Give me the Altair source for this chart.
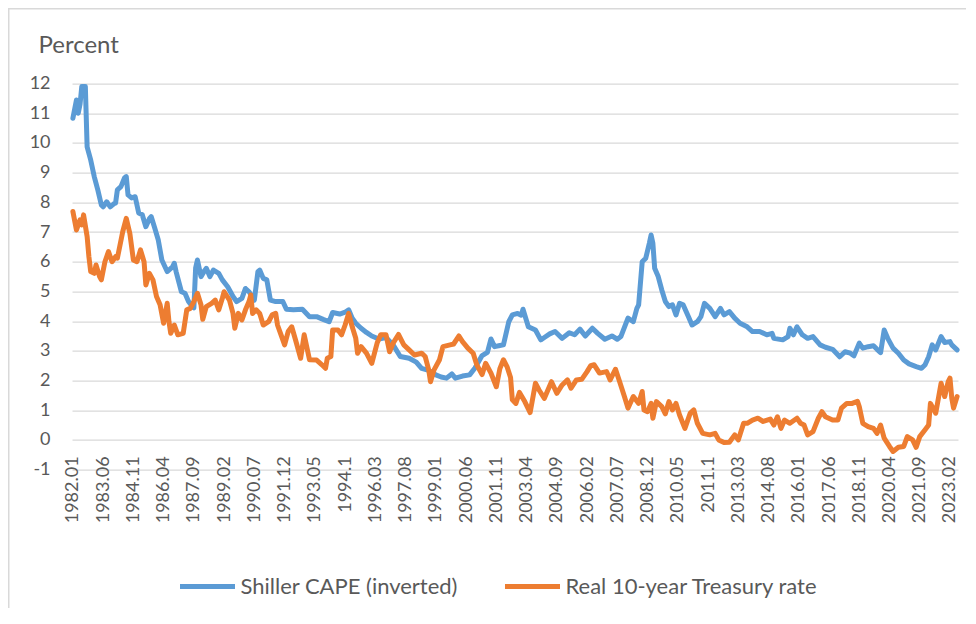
import json
import altair as alt
import pandas as pd

# ---------------- data (month index: 0 = 1982.01) ----------------
SERIES = ["Shiller CAPE (inverted)", "Real 10-year Treasury rate"]
COLORS = ["#5B9BD5", "#ED7D31"]

CAPE_MONTHS = [
    0, 2, 3, 4, 5, 7, 8, 10, 12, 14, 16, 17, 19, 21, 23, 24, 25, 27, 29, 30,
    31, 33, 35, 37, 39, 41, 43, 44, 46, 48, 50, 53, 56, 57, 58, 61, 63, 65, 67, 68,
    69, 70, 72, 74, 75, 77, 79, 82, 84, 87, 90, 92, 95, 97, 99, 102, 104, 105, 107, 109,
    111, 114, 118, 120, 124, 129, 133, 137, 141, 144, 146, 150, 153, 155, 157, 159, 162, 165, 168, 172,
    176, 180, 184, 189, 193, 196, 199, 202, 204, 207, 210, 213, 215, 219, 223, 226, 230, 233, 235, 237,
    240, 242, 245, 247, 250, 252, 253, 256, 260, 263, 265, 268, 271, 275, 279, 282, 285, 288, 292, 295,
    299, 303, 306, 308, 312, 315, 317, 318, 320, 322, 324, 325, 326, 327, 329, 331, 333, 335, 337, 339,
    341, 343, 346, 348, 351, 353, 355, 358, 361, 364, 366, 369, 372, 375, 379, 382, 386, 390, 393, 394,
    399, 402, 403, 405, 407, 410, 413, 416, 420, 423, 427, 431, 434, 437, 439, 442, 444, 447, 450, 452,
    454, 456, 458, 461, 464, 467, 470, 474, 477, 479, 481, 483, 485, 488, 490, 493, 494, 497,
]
CAPE_VALUES = [
    10.83, 11.45, 11.0, 11.3, 11.9, 11.9, 9.87, 9.43, 8.87, 8.42, 7.91, 7.85, 8.02, 7.85, 7.95, 7.98, 8.42, 8.53, 8.82, 8.87,
    8.25, 8.15, 8.19, 7.64, 7.58, 7.18, 7.45, 7.52, 7.14, 6.73, 6.06, 5.67, 5.83, 5.95, 5.67, 4.99, 4.94, 4.66, 4.5, 4.45,
    5.8, 6.06, 5.5, 5.7, 5.78, 5.5, 5.72, 5.61, 5.39, 5.16, 4.83, 4.66, 4.77, 5.1, 4.99, 4.71, 5.67, 5.72, 5.44, 5.39,
    4.71, 4.66, 4.66, 4.4, 4.38, 4.4, 4.15, 4.15, 4.05, 3.98, 4.29, 4.24, 4.3, 4.38, 4.1, 3.93, 3.76, 3.62, 3.5, 3.4,
    3.45, 3.2, 2.81, 2.75, 2.62, 2.41, 2.36, 2.28, 2.19, 2.12, 2.08, 2.22, 2.08, 2.15, 2.19, 2.42, 2.84, 2.95, 3.4, 3.14,
    3.18, 3.2, 3.98, 4.21, 4.26, 4.2, 4.4, 3.81, 3.7, 3.37, 3.45, 3.57, 3.65, 3.42, 3.61, 3.54, 3.73, 3.5, 3.76, 3.59,
    3.39, 3.5, 3.39, 3.48, 4.1, 3.98, 4.43, 4.55, 6.0, 6.12, 6.62, 6.9, 6.62, 5.78, 5.5, 5.05, 4.66, 4.49, 4.55, 4.21,
    4.6, 4.55, 4.15, 3.87, 3.98, 4.15, 4.6, 4.43, 4.15, 4.43, 4.21, 4.32, 4.1, 3.93, 3.81, 3.65, 3.65, 3.54, 3.59, 3.42,
    3.37, 3.48, 3.76, 3.54, 3.81, 3.54, 3.42, 3.48, 3.2, 3.12, 3.05, 2.8, 2.97, 2.92, 2.83, 3.26, 3.09, 3.14, 3.17, 3.05,
    2.94, 3.7, 3.42, 3.09, 2.92, 2.69, 2.56, 2.47, 2.41, 2.53, 2.8, 3.2, 3.03, 3.48, 3.28, 3.31, 3.2, 3.03,
]

REAL_MONTHS = [
    0, 2, 4, 5, 6, 8, 9, 10, 12, 13, 15, 16, 18, 20, 22, 24, 25, 28, 30, 32,
    34, 36, 38, 40, 41, 43, 45, 47, 49, 51, 53, 54, 55, 57, 59, 62, 64, 66, 68, 70,
    72, 73, 75, 78, 80, 82, 84, 85, 88, 90, 91, 93, 95, 97, 99, 100, 101, 103, 105, 107,
    110, 112, 114, 115, 117, 119, 121, 123, 125, 128, 130, 133, 137, 140, 142, 143, 145, 146, 149, 151,
    153, 155, 157, 159, 160, 162, 165, 168, 171, 173, 176, 178, 180, 183, 186, 189, 192, 196, 198, 200,
    201, 203, 206, 208, 212, 214, 217, 219, 222, 225, 227, 230, 232, 235, 238, 240, 242, 244, 246, 247,
    249, 251, 254, 257, 260, 262, 265, 269, 272, 275, 278, 280, 283, 286, 289, 291, 293, 296, 300, 302,
    305, 307, 310, 312, 315, 318, 320, 321, 323, 325, 326, 328, 331, 333, 335, 337, 339, 341, 344, 347,
    349, 351, 354, 358, 361, 363, 366, 369, 372, 374, 377, 379, 382, 385, 388, 392, 394, 396, 398, 400,
    403, 407, 409, 411, 413, 416, 419, 421, 423, 427, 430, 432, 435, 438, 441, 442, 444, 447, 450, 452,
    454, 456, 459, 461, 464, 467, 469, 472, 474, 476, 479, 481, 482, 485, 488, 490, 492, 493, 494, 495,
    497,
]
REAL_VALUES = [
    7.69, 7.07, 7.41, 7.24, 7.58, 6.85, 6.17, 5.67, 5.61, 5.89, 5.5, 5.39, 6.0, 6.34, 6.0, 6.17, 6.12, 7.01, 7.46, 6.96,
    6.06, 6.0, 6.4, 6.0, 5.22, 5.61, 5.39, 4.83, 4.55, 3.93, 4.6, 3.98, 3.59, 3.87, 3.54, 3.59, 4.38, 4.43, 4.66, 4.94,
    4.55, 4.06, 4.49, 4.6, 4.71, 4.38, 4.77, 4.99, 4.71, 4.26, 3.76, 4.26, 4.04, 4.38, 4.66, 4.88, 4.26, 4.38, 4.26, 3.87,
    3.98, 4.21, 4.26, 3.87, 3.54, 3.2, 3.65, 3.81, 3.4, 2.75, 3.54, 2.7, 2.69, 2.53, 2.41, 2.75, 2.81, 3.7, 3.7, 3.54,
    3.87, 4.26, 3.81, 3.42, 2.92, 3.14, 2.92, 2.58, 3.26, 3.54, 3.54, 2.97, 3.26, 3.55, 3.2, 3.03, 2.86, 2.92, 2.81, 2.36,
    1.96, 2.36, 2.69, 3.14, 3.2, 3.23, 3.5, 3.31, 3.09, 2.92, 2.53, 2.2, 2.58, 2.25, 1.79, 2.4, 2.7, 2.47, 2.1, 1.35,
    1.23, 1.6, 1.29, 0.92, 1.91, 1.68, 1.4, 1.96, 1.57, 1.85, 2.02, 1.74, 2.02, 2.04, 2.3, 2.5, 2.53, 2.25, 2.3, 2.02,
    2.38, 2.02, 1.46, 1.07, 1.46, 1.23, 1.63, 1.01, 0.95, 1.23, 0.73, 1.29, 1.12, 0.88, 1.29, 1.01, 1.23, 0.84, 0.39, 0.9,
    1.01, 0.56, 0.22, 0.17, 0.22, 0.0, -0.09, -0.08, 0.17, 0.0, 0.56, 0.56, 0.67, 0.73, 0.62, 0.7, 0.5, 0.78, 0.39, 0.67,
    0.56, 0.73, 0.56, 0.5, 0.17, 0.28, 0.73, 0.95, 0.78, 0.67, 0.67, 1.07, 1.23, 1.23, 1.3, 1.12, 0.56, 0.45, 0.39, 0.22,
    0.5, 0.06, -0.22, -0.39, -0.25, -0.22, 0.11, 0.0, -0.25, 0.11, 0.34, 0.5, 1.23, 0.9, 1.91, 1.46, 1.96, 2.08, 1.4, 1.07,
    1.46,
]

TICK_MONTHS = [0, 17, 34, 51, 68, 85, 102, 119, 136, 153, 170, 187, 204, 221, 238,
               255, 272, 289, 306, 323, 340, 357, 374, 391, 408, 425, 442, 459, 476, 493]
TICK_LABELS = ["1982.01", "1983.06", "1984.11", "1986.04", "1987.09", "1989.02", "1990.07",
               "1991.12", "1993.05", "1994.1", "1996.03", "1997.08", "1999.01", "2000.06",
               "2001.11", "2003.04", "2004.09", "2006.02", "2007.07", "2008.12", "2010.05",
               "2011.1", "2013.03", "2014.08", "2016.01", "2017.06", "2018.11", "2020.04",
               "2021.09", "2023.02"]
Y_TICKS = [-1, 0, 1, 2, 3, 4, 5, 6, 7, 8, 9, 10, 11, 12]

# ---------------- build ----------------
df_cape = pd.DataFrame({"month": CAPE_MONTHS, "value": CAPE_VALUES, "series": SERIES[0]})
df_real = pd.DataFrame({"month": REAL_MONTHS, "value": REAL_VALUES, "series": SERIES[1]})

FONT = "Lato"
GREY = "#595959"
W, H = 886, 386

label_map = json.dumps(dict(zip([str(m) for m in TICK_MONTHS], TICK_LABELS)))
label_expr = f"{label_map}[''+datum.value]"

x_enc = alt.X(
    "month:Q",
    scale=alt.Scale(domain=[-0.5, 497.5], nice=False, zero=False),
    axis=alt.Axis(
        values=TICK_MONTHS, labelExpr=label_expr, labelAngle=-90,
        labelAlign="right", labelBaseline="middle", labelPadding=16,
        offset=-29.7, domain=False, ticks=False, grid=False,
        labelFont=FONT, labelFontSize=18, labelColor=GREY,
        labelOverlap=False, labelFlush=False, title=None,
    ),
)
y_enc = alt.Y(
    "value:Q",
    scale=alt.Scale(domain=[-1, 12], nice=False, zero=False),
    axis=alt.Axis(
        values=Y_TICKS, labelExpr="'' + datum.value", domain=False, ticks=False, grid=True,
        gridColor="#D9D9D9", gridWidth=1.3,
        labelFont=FONT, labelFontSize=18, labelColor=GREY, labelPadding=22,
        title="Percent", titleAngle=0, titleAlign="left", titleBaseline="alphabetic",
        titleX=-34, titleY=-30.6, titleFont=FONT, titleFontSize=24,
        titleFontWeight="normal", titleColor=GREY,
    ),
)
color_enc = alt.Color(
    "series:N",
    scale=alt.Scale(domain=SERIES, range=COLORS),
    legend=alt.Legend(
        title=None, orient="none", legendX=105.5, legendY=473, direction="horizontal",
        symbolType="stroke", symbolSize=3025, symbolStrokeWidth=5,
        labelFont=FONT, labelFontSize=22, labelColor=GREY, labelOffset=3,
        columnPadding=36, labelLimit=400,
    ),
)

frame = alt.Chart(pd.DataFrame({"frame": [0]})).mark_rect(
    filled=False, stroke="#D9D9D9", strokeWidth=1.5
).encode(
    x=alt.value(-63.25), x2=alt.value(W + 60),
    y=alt.value(-74.85), y2=alt.value(H + 200),
)

line_style = dict(strokeWidth=5, strokeCap="round", strokeJoin="round")
cape = alt.Chart(df_cape).mark_line(**line_style).encode(x=x_enc, y=y_enc, color=color_enc)
real = alt.Chart(df_real).mark_line(**line_style).encode(x=x_enc, y=y_enc, color=color_enc)

chart = alt.layer(frame, cape, real).properties(
    width=W, height=H,
    autosize=alt.AutoSizeParams(type="none"),
    padding={"left": 64, "top": 75.6, "right": 8, "bottom": 138},
    background="white",
).configure_view(stroke=None)

chart.save("out.html", embed_options={"renderer": "svg", "actions": False})
